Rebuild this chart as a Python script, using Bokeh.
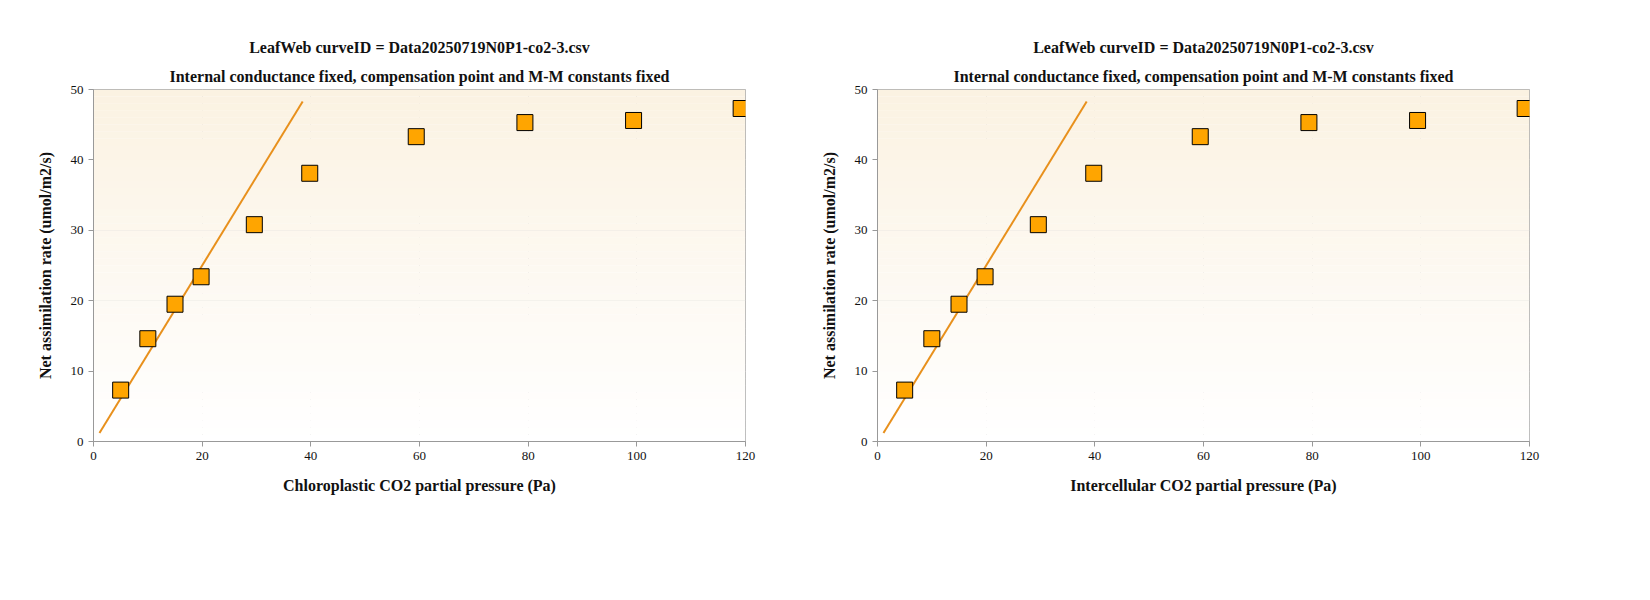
from bokeh.plotting import figure
from bokeh.layouts import row
from bokeh.models import Legend, LegendItem, Range1d, Title
from bokeh.embed import file_html
from bokeh.resources import INLINE

title1 = "LeafWeb curveID = Data20250719N0P1-co2-3.csv"
title2 = "Internal conductance fixed, compensation point and M-M constants fixed"
x_labels = ["Chloroplastic CO2 partial pressure (Pa)", "Intercellular CO2 partial pressure (Pa)"]
y_label = "Net assimilation rate (umol/m2/s)"

tpu_x = [5.0, 10.0, 15.0, 19.8, 29.6, 39.8, 59.4, 79.4, 99.4, 119.2]
tpu_y = [7.3, 14.6, 19.5, 23.4, 30.8, 38.1, 43.3, 45.3, 45.6, 47.3]
line_x = [1.1, 38.5]
line_y = [1.2, 48.3]

band_edges = list(range(0, 51))


def lerp(c1, c2, t):
    return "#%02x%02x%02x" % tuple(int(round(a + (b - a) * t)) for a, b in zip(c1, c2))


def make(xlab):
    p = figure(width=784, height=570, output_backend="svg", toolbar_location=None,
               x_range=Range1d(0, 120), y_range=Range1d(0, 50),
               min_border_left=93, min_border_right=39, min_border_top=89, min_border_bottom=129,
               background_fill_color="white", border_fill_color="white")
    p.add_layout(Title(text=title2, align="center", text_font="Liberation Serif",
                       text_font_size="16px", text_font_style="bold", text_color="#111"), "above")
    p.add_layout(Title(text=title1, align="center", text_font="Liberation Serif",
                       text_font_size="16px", text_font_style="bold", text_color="#111"), "above")
    cols = [lerp((255, 255, 255), (251, 242, 226), i / 49) for i in range(50)]
    p.hbar(y=[b + 0.5 for b in band_edges[:-1]], height=1.02, left=0, right=120,
           color=cols, line_color=None)
    p.xgrid.grid_line_color = "#cfcfcf"
    p.ygrid.grid_line_color = "#cfcfcf"
    p.outline_line_color = "#aaaaaa"
    for ax in (p.xaxis, p.yaxis):
        ax.axis_line_color = "#999999"
        ax.major_tick_line_color = "#999999"
        ax.minor_tick_line_color = None
        ax.major_label_text_font = "Liberation Serif"
        ax.major_label_text_font_size = "13px"
        ax.major_label_text_color = "#111"
        ax.axis_label_text_font = "Liberation Serif"
        ax.axis_label_text_font_size = "16px"
        ax.axis_label_text_font_style = "bold"
        ax.axis_label_text_color = "#111"
        ax.major_tick_out = 5
        ax.major_tick_in = 0
    p.xaxis.ticker = [0, 20, 40, 60, 80, 100, 120]
    p.yaxis.ticker = [0, 10, 20, 30, 40, 50]
    p.xaxis.axis_label = xlab
    p.yaxis.axis_label = y_label
    p.xaxis.axis_label_standoff = 14
    p.yaxis.axis_label_standoff = 14

    p.line(line_x, line_y, line_color="#e8901c", line_width=2)
    r_rub = p.scatter([], [], marker="diamond", size=12, fill_color="#e41a1c", line_color="#e41a1c")
    r_rubp = p.scatter([], [], marker="circle", size=12, fill_color="#0000ff", line_color="#0000ff")
    r_tpu = p.scatter(tpu_x, tpu_y, marker="square", size=16, fill_color="#ffa500", line_color="black")
    leg = Legend(items=[LegendItem(label="Rubisco-limited", renderers=[r_rub]),
                        LegendItem(label="RuBP regeneration-limited", renderers=[r_rubp]),
                        LegendItem(label="TPU-limited", renderers=[r_tpu])],
                 orientation="horizontal", location=(-57, -104), spacing=32,
                 label_text_font="DejaVu Sans", label_text_font_size="15px",
                 label_text_color="#111", border_line_color=None, background_fill_alpha=0,
                 glyph_width=20, label_standoff=14, margin=0, padding=0)
    p.add_layout(leg, "center")
    return p


lay = row(make(x_labels[0]), make(x_labels[1]), spacing=0)
open("out.html", "w").write(file_html(lay, INLINE))
